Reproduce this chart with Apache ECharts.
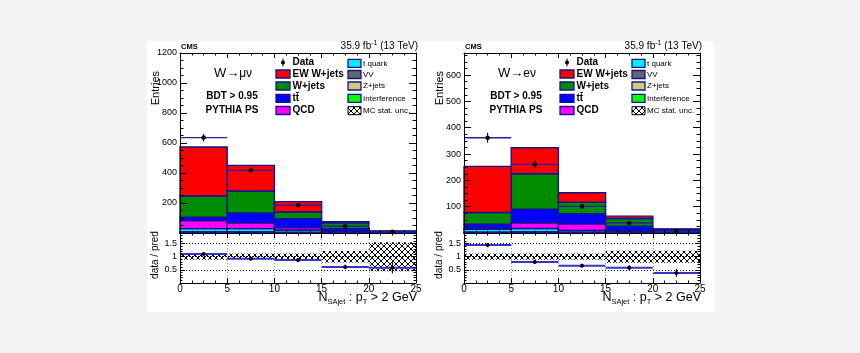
<!DOCTYPE html>
<html><head><meta charset="utf-8">
<script src="https://cdn.jsdelivr.net/npm/echarts@6/dist/echarts.min.js"></script>
<style>
html,body{margin:0;padding:0;background:#f4f4f4;width:860px;height:353px;overflow:hidden}
#bg{position:absolute;left:147px;top:41px;width:567px;height:271px;background:#fff}
#c{position:absolute;left:0;top:0;width:860px;height:353px}
</style></head><body><div id="bg"></div><div id="c"></div>
<script>
// ---------------- data ----------------
const binEdges = [0, 5, 10, 15, 20, 25];
const xTicks = [0, 5, 10, 15, 20, 25];
const componentNames = ['VV', 'Z+jets', 'Interference', 't quark', 'QCD', 'tt\u0304', 'W+jets', 'EW W+jets'];

// W -> mu nu  (stacked bottom to top)
const muVV     = [3, 3, 2, 1, 0.5];
const muZjets  = [3, 3, 2, 1, 0.5];
const muInterf = [3, 3, 2, 1, 0.5];
const muTquark = [20, 20, 14, 3, 1];
const muQCD    = [54, 39, 17, 4, 1];
const muTT     = [22, 65, 59, 18, 5];
const muWjets  = [142, 147, 44, 40, 3];
const muEW     = [326, 171, 69, 8, 1.5];
const muData    = [636, 418, 185, 45, 8];
const muDataErr = [25, 20, 14, 7, 3];
const muRatio    = [1.10, 0.92, 0.87, 0.61, 0.58];
const muRatioErr = [0.05, 0.05, 0.07, 0.09, 0.22];
const muUnc      = [0.12, 0.12, 0.12, 0.22, 0.55];

// W -> e nu
const eVV     = [1.5, 2, 1.5, 1, 0.3];
const eZjets  = [1.5, 2, 1.5, 1, 0.3];
const eInterf = [1, 1, 1, 1, 0.4];
const eTquark = [10, 12, 6, 3, 1];
const eQCD    = [3, 22, 25, 3, 1];
const eTT     = [16, 51, 38, 17, 8];
const eWjets  = [45, 135, 44, 29, 3];
const eEW     = [175, 99, 36, 9, 1];
const eData    = [362, 261, 101, 38, 6];
const eDataErr = [19, 16, 10, 6, 2.5];
const eRatio    = [1.44, 0.80, 0.66, 0.58, 0.38];
const eRatioErr = [0.08, 0.05, 0.07, 0.10, 0.15];
const eUnc      = [0.12, 0.12, 0.12, 0.23, 0.23];

const mainMaxMu = 1200, mainMaxE = 684, ratioMax = 1.9;

// ---------------- style ----------------
const FF = "'Liberation Sans', Arial, Helvetica, sans-serif";
const compColors = ['#666666', '#cccc7a', '#00ff00', '#00eeff', '#ff00ff', '#0000ff', '#008c00', '#ff0000'];
const OUTLINE = '#14148f';

const pc = document.createElement('canvas'); pc.width = 6; pc.height = 6;
(function () {
  const g = pc.getContext('2d'); g.strokeStyle = '#000'; g.lineWidth = 1;
  g.beginPath(); g.moveTo(0, 0); g.lineTo(6, 6); g.moveTo(6, 0); g.lineTo(0, 6); g.stroke();
})();
const hatch = { image: pc, repeat: 'repeat' };

const mctx = document.createElement('canvas').getContext('2d');
function tw(t, font) { mctx.font = font; return mctx.measureText(t).width; }

// ---------------- builders ----------------
function stackSeries(comps, xi, yi) {
  const series = [];
  const cum = binEdges.slice(0, -1).map(() => 0);
  comps.forEach((arr, ci) => {
    const data = arr.map((v, b) => {
      const d = [binEdges[b], binEdges[b + 1], cum[b], cum[b] + v];
      cum[b] += v;
      return d;
    });
    series.push({
      type: 'custom', xAxisIndex: xi, yAxisIndex: yi, z: 2,
      encode: { x: [0, 1], y: [2, 3] },
      data: data,
      renderItem: function (params, api) {
        const p0 = api.coord([api.value(0), api.value(2)]);
        const p1 = api.coord([api.value(1), api.value(3)]);
        return { type: 'rect', shape: { x: p0[0], y: p1[1], width: p1[0] - p0[0], height: p0[1] - p1[1] },
          style: { fill: compColors[ci], stroke: OUTLINE, lineWidth: 1.4 } };
      }
    });
  });
  return series;
}

function pointSeries(vals, errs, xi, yi, hColor, hWidth, r) {
  return {
    type: 'custom', xAxisIndex: xi, yAxisIndex: yi, z: 5,
    encode: { x: [0, 1], y: 2 },
    data: vals.map((v, b) => [binEdges[b], binEdges[b + 1], v, errs[b]]),
    renderItem: function (params, api) {
      const x0 = api.value(0), x1 = api.value(1), v = api.value(2), e = api.value(3);
      const a = api.coord([x0, v]), b = api.coord([x1, v]);
      const c = api.coord([(x0 + x1) / 2, v]);
      const lo = api.coord([(x0 + x1) / 2, v - e]), hi = api.coord([(x0 + x1) / 2, v + e]);
      return { type: 'group', children: [
        { type: 'line', shape: { x1: a[0], y1: a[1], x2: b[0], y2: b[1] }, style: { stroke: hColor, lineWidth: hWidth } },
        { type: 'line', shape: { x1: c[0], y1: lo[1], x2: c[0], y2: hi[1] }, style: { stroke: '#000', lineWidth: 1 } },
        { type: 'circle', shape: { cx: c[0], cy: c[1], r: r }, style: { fill: '#000' } }
      ] };
    }
  };
}

function bandSeries(unc, xi, yi) {
  return {
    type: 'custom', xAxisIndex: xi, yAxisIndex: yi, z: 1,
    encode: { x: [0, 1], y: [2, 3] },
    data: unc.map((u, b) => [binEdges[b], binEdges[b + 1], 1 - u, 1 + u]),
    renderItem: function (params, api) {
      const p0 = api.coord([api.value(0), api.value(2)]);
      const p1 = api.coord([api.value(1), api.value(3)]);
      return { type: 'rect', shape: { x: p0[0], y: p1[1], width: p1[0] - p0[0], height: p0[1] - p1[1] },
        style: { fill: hatch } };
    }
  };
}

function xAx(g, pos, labels, split) {
  return { type: 'value', gridIndex: g, position: pos, min: xTicks[0], max: xTicks[xTicks.length - 1], interval: 5, z: 10,
    axisLine: { show: true, onZero: false, lineStyle: { color: '#000', width: 1 } },
    axisTick: { show: true, inside: true, length: 5, lineStyle: { color: '#000' } },
    minorTick: { show: true, splitNumber: 4, length: 2.5, lineStyle: { color: '#000' } },
    axisLabel: { show: labels, fontSize: 10, color: '#000', margin: 1, fontFamily: FF },
    splitLine: { show: split, lineStyle: { color: '#9a9a9a', type: [1, 2], width: 1 } } };
}
function yAx(g, pos, max, interval, labels, fmt, tickLen, minorSplit, split) {
  return { type: 'value', gridIndex: g, position: pos, min: 0, max: max, interval: interval, z: 10,
    axisLine: { show: true, onZero: false, lineStyle: { color: '#000', width: 1 } },
    axisTick: { show: true, inside: true, length: tickLen, lineStyle: { color: '#000' } },
    minorTick: { show: true, splitNumber: minorSplit, length: tickLen / 2, lineStyle: { color: '#000' } },
    axisLabel: { show: labels, fontSize: 9, color: '#000', margin: 3, fontFamily: FF, formatter: fmt },
    splitLine: { show: split, lineStyle: { color: '#000', type: [1, 2], width: 1 } } };
}
const fmtMu = v => (v > 0 && v % 200 === 0) ? String(v) : '';
const fmtE = v => (v > 0 && v % 100 === 0 && v <= 600) ? String(v) : '';
const fmtR = v => { const r = Math.round(v * 10) / 10; return (r === 0.5 || r === 1 || r === 1.5) ? String(r) : ''; };

// text helpers
function seq(parts, x, y, align) {
  // parts: [text, size, weight, dy]
  let total = 0;
  const ws = parts.map(p => { const w = tw(p[0], (p[2] || 'normal') + ' ' + p[1] + 'px ' + FF); total += w; return w; });
  let cx = align === 'right' ? x - total : (align === 'center' ? x - total / 2 : x);
  return parts.map((p, i) => {
    const el = { type: 'text', x: cx, y: y + (p[3] || 0), z: 20,
      style: { text: p[0], fontSize: p[1], fontWeight: p[2] || 'normal', fontFamily: FF, fill: '#000',
        align: 'left', textAlign: 'left', verticalAlign: 'middle', textVerticalAlign: 'middle' } };
    cx += ws[i];
    return el;
  });
}
function txt(t, x, y, size, weight, align, rot) {
  return { type: 'text', x: x, y: y, rotation: rot || 0, z: 20,
    style: { text: t, fontSize: size, fontWeight: weight || 'normal', fontFamily: FF, fill: '#000',
      align: align || 'left', textAlign: align || 'left', verticalAlign: 'middle', textVerticalAlign: 'middle' } };
}

function panelGraphics(ox, right, chanLabel) {
  const els = [];
  els.push(txt('CMS', ox + 1, 46.5, 7.5, 'bold', 'left'));
  els.push(...seq([['35.9 fb', 10], ['-1', 7, 'normal', -3.5], [' (13 TeV)', 10]], right + 2, 46.5, 'right'));
  els.push(txt('Entries', ox - 24.5, 71, 11, 'normal', 'right', Math.PI / 2));
  els.push(txt('data / pred', ox - 25, 255, 10, 'normal', 'center', Math.PI / 2));
  els.push(...seq([['N', 12.5], ['SAjet', 7.5, 'normal', 3.5], [' : p', 12.5], ['T', 7.5, 'normal', 3.5], [' > 2 GeV', 12.5]], right + 1, 298, 'right'));
  els.push(...seq([['W', 13], ['\u2192', 13], [chanLabel, 12]], ox + 53, 73.3, 'center'));
  els.push(txt('BDT > 0.95', ox + 52, 96.7, 10, 'bold', 'center'));
  els.push(txt('PYTHIA PS', ox + 52, 110.3, 10, 'bold', 'center'));
  // legend column 1
  const rows1 = [62.5, 74, 86, 98.3, 110.5];
  const col1 = [['Data', null], ['EW W+jets', compColors[7]], ['W+jets', compColors[6]], ['tt\u0304', compColors[5]], ['QCD', compColors[4]]];
  col1.forEach((c, i) => {
    const y = rows1[i];
    if (c[1]) {
      els.push({ type: 'rect', z: 20, shape: { x: ox + 96, y: y - 4, width: 14, height: 8 }, style: { fill: c[1], stroke: OUTLINE, lineWidth: 1.3 } });
    } else {
      els.push({ type: 'line', z: 20, shape: { x1: ox + 103, y1: y - 4, x2: ox + 103, y2: y + 4 }, style: { stroke: '#000', lineWidth: 1 } });
      els.push({ type: 'circle', z: 20, shape: { cx: ox + 103, cy: y, r: 2 }, style: { fill: '#000' } });
    }
    els.push(txt(c[0], ox + 112.5, y, 10, 'bold', 'left'));
  });
  const rows2 = [63.3, 74.5, 86, 98.3, 110.7];
  const col2 = [['t quark', compColors[3]], ['VV', compColors[0]], ['Z+jets', compColors[1]], ['Interference', compColors[2]], ['MC stat. unc.', 'hatch']];
  col2.forEach((c, i) => {
    const y = rows2[i];
    if (c[1] === 'hatch') {
      els.push({ type: 'rect', z: 20, shape: { x: ox + 168, y: y - 4, width: 13, height: 8 }, style: { fill: hatch, stroke: '#000', lineWidth: 1 } });
    } else {
      els.push({ type: 'rect', z: 20, shape: { x: ox + 168, y: y - 4, width: 13, height: 8 }, style: { fill: c[1], stroke: OUTLINE, lineWidth: 1.3 } });
    }
    els.push(txt(c[0], ox + 183, y, 8, 'normal', 'left'));
  });
  return els;
}

// ---------------- chart ----------------
const L = 180, R = 464, W = 236, TOP = 53, MH = 180, RH = 50;
const chart = echarts.init(document.getElementById('c'), null, { renderer: 'canvas' });
const option = {
  backgroundColor: 'transparent',
  animation: false,
  grid: [
    { left: L, top: TOP, width: W, height: MH },
    { left: L, top: TOP + MH, width: W, height: RH },
    { left: R, top: TOP, width: W, height: MH },
    { left: R, top: TOP + MH, width: W, height: RH }
  ],
  xAxis: [
    xAx(0, 'bottom', false, false), xAx(0, 'top', false, false),
    xAx(1, 'bottom', true, true), xAx(1, 'top', false, false),
    xAx(2, 'bottom', false, false), xAx(2, 'top', false, false),
    xAx(3, 'bottom', true, true), xAx(3, 'top', false, false)
  ],
  yAxis: [
    yAx(0, 'left', mainMaxMu, 200, true, fmtMu, 7, 4, false), yAx(0, 'right', mainMaxMu, 200, false, fmtMu, 7, 4, false),
    yAx(1, 'left', ratioMax, 0.5, true, fmtR, 5, 5, true), yAx(1, 'right', ratioMax, 0.5, false, fmtR, 5, 5, false),
    yAx(2, 'left', mainMaxE, 100, true, fmtE, 7, 4, false), yAx(2, 'right', mainMaxE, 100, false, fmtE, 7, 4, false),
    yAx(3, 'left', ratioMax, 0.5, true, fmtR, 5, 5, true), yAx(3, 'right', ratioMax, 0.5, false, fmtR, 5, 5, false)
  ],
  series: [
    ...stackSeries([muVV, muZjets, muInterf, muTquark, muQCD, muTT, muWjets, muEW], 0, 0),
    pointSeries(muData, muDataErr, 0, 0, '#22229a', 1.3, 2.3),
    bandSeries(muUnc, 2, 2),
    pointSeries(muRatio, muRatioErr, 2, 2, '#3535cc', 2, 2),
    ...stackSeries([eVV, eZjets, eInterf, eTquark, eQCD, eTT, eWjets, eEW], 4, 4),
    pointSeries(eData, eDataErr, 4, 4, '#22229a', 1.3, 2.3),
    bandSeries(eUnc, 6, 6),
    pointSeries(eRatio, eRatioErr, 6, 6, '#3535cc', 2, 2)
  ],
  graphic: [
    ...panelGraphics(L, L + W, '\u03bc\u03bd'),
    ...panelGraphics(R, R + W, 'e\u03bd')
  ]
};
chart.setOption(option);
</script></body></html>
